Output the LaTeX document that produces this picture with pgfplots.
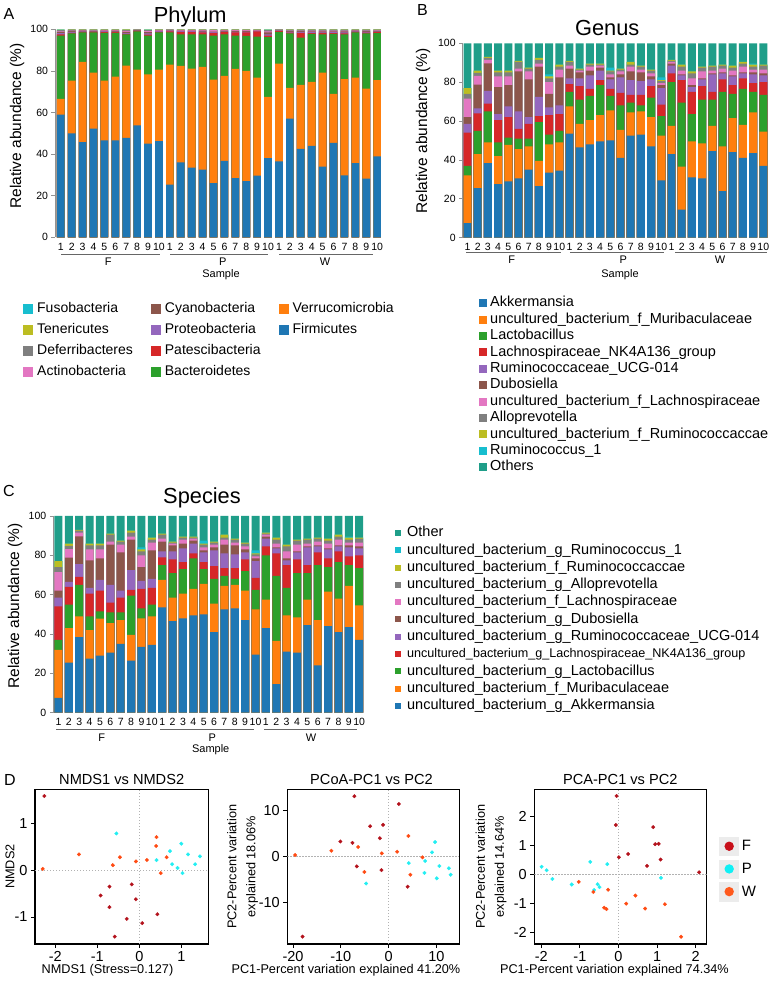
\documentclass[border=0pt]{standalone}
\usepackage{fontspec}
\setmainfont{Liberation Sans}
\usepackage{pgfplots}
\usepackage{pgfplotstable}
\pgfplotsset{compat=1.18}

\definecolor{cBlue}{HTML}{1F77B4}
\definecolor{cOrange}{HTML}{FF7F0E}
\definecolor{cGreen}{HTML}{2CA02C}
\definecolor{cRed}{HTML}{D62728}
\definecolor{cPurple}{HTML}{9467BD}
\definecolor{cBrown}{HTML}{8C564B}
\definecolor{cPink}{HTML}{E377C2}
\definecolor{cGrey}{HTML}{7F7F7F}
\definecolor{cOlive}{HTML}{BCBD22}
\definecolor{cCyan}{HTML}{17BECF}
\definecolor{cTeal}{HTML}{1F9E89}
\definecolor{ptF}{HTML}{B3121C}
\definecolor{ptP}{HTML}{22EEF2}
\definecolor{ptW}{HTML}{FF4A12}
\definecolor{lgF}{HTML}{C8101A}
\definecolor{lgP}{HTML}{10F0F5}
\definecolor{lgW}{HTML}{FF5A1E}

\newcommand\fs[1]{\fontsize{#1}{#1}\selectfont}

% phylum: cumulative top of each layer, Firmicutes at the bottom
\pgfplotstableread{
x fir ver bac pat pro cya act def ten fus
1 59.0 66.5 97.0 97.5 98.2 98.6 99.0 99.6 99.8 100
2 50.0 75.3 98.0 98.3 98.7 99.2 99.4 99.8 99.9 100
3 45.8 84.3 98.5 98.7 99.0 99.3 99.5 99.8 99.9 100
4 52.2 79.2 98.5 98.7 98.9 99.1 99.3 99.8 99.9 100
5 46.6 75.3 98.3 98.8 99.1 99.4 99.6 99.8 99.9 100
6 46.6 77.2 98.3 98.6 98.9 99.4 99.6 99.8 99.9 100
7 47.8 82.5 97.5 97.8 98.2 98.8 99.2 99.7 99.9 100
8 53.8 80.6 99.0 99.2 99.4 99.6 99.7 99.9 99.9 100
9 45.0 78.3 97.0 97.4 98.0 98.6 99.1 99.6 99.8 100
10 46.2 80.6 98.5 98.8 99.1 99.4 99.6 99.8 99.9 100
11 25.3 83.0 98.5 99.0 99.3 99.5 99.7 99.9 99.9 100
12 36.0 82.4 97.5 98.8 99.1 99.4 99.6 99.8 99.9 100
13 33.5 81.1 97.5 98.8 99.1 99.4 99.6 99.8 99.9 100
14 32.5 81.9 97.5 98.5 98.9 99.3 99.6 99.8 99.9 100
15 26.0 75.8 97.0 98.3 98.6 98.9 99.6 99.8 99.9 100
16 36.7 77.6 97.5 98.6 98.9 99.3 99.6 99.8 99.9 100
17 28.5 81.0 97.0 98.5 98.8 99.2 99.6 99.8 99.9 100
18 27.0 80.0 96.8 98.5 98.8 99.2 99.6 99.8 99.9 100
19 29.6 76.8 96.5 99.0 99.2 99.4 99.6 99.8 99.9 100
20 38.1 67.5 96.2 97.0 97.6 98.5 99.0 99.6 99.8 100
21 36.5 83.5 98.8 99.1 99.3 99.5 99.7 99.9 99.9 100
22 57.0 71.8 98.0 98.4 98.7 99.1 99.4 99.8 99.9 100
23 42.5 73.3 96.0 98.3 98.7 99.1 99.4 99.8 99.9 100
24 44.0 74.7 97.8 98.2 98.6 99.0 99.4 99.8 99.9 100
25 34.0 79.2 97.6 98.1 98.5 99.0 99.4 99.8 99.9 100
26 45.4 68.9 97.8 98.2 98.6 99.0 99.4 99.8 99.9 100
27 29.8 76.0 97.6 98.0 98.5 99.0 99.4 99.8 99.9 100
28 35.7 76.8 98.5 98.8 99.0 99.3 99.5 99.8 99.9 100
29 28.2 71.5 98.0 98.4 98.8 99.1 99.4 99.8 99.9 100
30 38.9 75.6 98.2 98.6 98.9 99.2 99.5 99.8 99.9 100
}\phylum

% genus / species: cumulative tops, Akkermansia at the bottom
\pgfplotstableread{
x akk mur lac lna rum dub ula all uru ru1 oth
1 7.5 32.0 37.0 54.0 58.5 62.0 71.5 74.0 77.0 77.0 100
2 25.5 43.0 55.0 64.0 66.5 78.8 83.2 84.8 86.0 86.0 100
3 38.4 49.0 65.0 69.0 75.5 89.7 91.5 92.5 93.0 93.0 100
4 27.5 42.0 49.0 60.5 63.5 77.5 83.0 85.0 86.0 86.0 100
5 29.0 47.8 51.5 62.0 67.5 78.5 83.0 85.0 86.0 86.0 100
6 30.5 45.5 51.0 56.0 65.0 85.5 87.0 90.5 91.0 91.0 100
7 35.0 47.0 51.0 58.5 62.0 81.5 85.5 87.0 87.5 87.5 100
8 26.5 39.5 59.5 62.5 72.5 88.0 89.5 91.5 92.5 92.5 100
9 33.5 48.0 53.0 63.0 67.0 74.0 80.0 82.0 83.0 84.0 100
10 34.5 49.0 55.0 63.5 68.0 82.5 86.5 88.0 89.0 89.0 100
11 53.5 67.5 75.0 79.0 82.0 87.0 88.5 90.5 91.0 91.0 100
12 46.5 58.5 71.0 78.0 82.0 85.0 86.0 86.5 87.0 87.0 100
13 48.0 60.5 73.0 76.5 83.5 86.0 88.0 89.0 89.5 89.5 100
14 49.5 63.0 78.5 81.0 86.0 87.5 88.5 89.0 89.5 89.5 100
15 50.0 65.5 73.0 76.5 81.5 82.5 84.0 85.5 86.0 87.5 100
16 41.0 55.5 68.0 74.5 82.5 84.0 85.5 86.5 87.0 87.0 100
17 52.5 64.5 69.5 73.5 81.0 85.5 88.0 89.0 90.5 90.5 100
18 53.0 65.0 68.0 73.5 80.5 85.0 86.5 88.0 88.5 88.5 100
19 47.0 62.0 72.0 78.0 81.5 83.0 84.5 86.0 86.5 86.5 100
20 29.5 52.5 62.5 68.5 77.0 78.5 79.5 80.5 81.0 82.5 100
21 43.0 57.5 80.0 84.5 88.5 89.5 90.5 91.0 91.5 91.5 100
22 14.5 36.5 69.5 81.0 83.5 84.0 86.0 88.0 89.0 89.0 100
23 31.0 49.5 63.5 75.0 77.5 78.5 82.0 84.5 85.5 85.5 100
24 30.5 48.5 71.0 78.0 81.5 82.0 85.5 87.5 88.0 88.0 100
25 44.5 57.5 71.0 75.0 84.0 84.5 86.0 88.0 88.5 88.5 100
26 24.0 47.0 75.0 81.5 84.5 85.0 87.0 88.5 89.0 89.0 100
27 44.0 61.5 74.0 78.5 83.0 83.5 86.0 87.5 88.5 88.5 100
28 41.0 58.0 76.5 82.0 84.5 85.0 88.0 89.5 90.5 90.5 100
29 43.5 64.5 75.0 79.5 84.0 85.0 86.5 88.0 89.0 89.5 100
30 37.0 54.5 73.5 80.0 83.5 84.5 86.5 88.5 89.0 89.0 100
}\genus

% one layer of a stacked column chart, drawn over the layers above it
\newcommand\stackbar[4]{\addplot[ybar, bar width=#4, bar shift=0pt, fill=#3, draw=none, forget plot] table[x=x, y=#2] {#1};}

\tikzset{
  zeroline/.style={gray!60, dash pattern=on 1.2pt off 1.8pt, line width=0.8pt},
  grp/.style={gray!80!black, line width=0.7pt},
}

\pgfplotsset{
  barchart/.style={
    scale only axis, anchor=south west, clip=false,
    ymin=0, ymax=100, ytick={0,20,40,60,80,100},
    axis y line*=left, axis x line*=bottom,
    x axis line style={draw=none},
    y axis line style={draw=gray!85, line width=0.7pt},
    xtick={1,...,30},
    xticklabels={1,2,3,4,5,6,7,8,9,10,1,2,3,4,5,6,7,8,9,10,1,2,3,4,5,6,7,8,9,10},
    xtick style={draw=none},
    ytick style={draw=gray!85, line width=0.7pt},
    tick align=outside, major tick length=3.5pt,
    tick label style={font=\fs{10.5}},
    xticklabel style={inner sep=1pt, yshift=-1pt},
    /pgf/number format/assume math mode=true,
    ylabel={Relative abundance (\%)},
    ylabel style={font=\fs{15.5}, anchor=center},
    legend cell align=left,
  },
  scat/.style={
    scale only axis, anchor=south west, height=154.7pt,
    axis line style={line width=1.2pt},
    tick pos=left, tick align=outside, major tick length=4pt,
    tick style={black, line width=1pt},
    tick label style={font=\fs{14.5}},
    /pgf/number format/assume math mode=true,
    xlabel style={font=\fs{12.7}, anchor=center},
    ylabel style={font=\fontsize{12.7}{19}\selectfont, anchor=center, align=center},
  },
  ptsF/.style={only marks, mark=*, mark size=1.8pt, color=ptF, mark options={solid, draw=ptF, fill=ptF, line width=0.3pt}, forget plot},
  ptsP/.style={only marks, mark=*, mark size=1.8pt, color=ptP, mark options={solid, draw=ptP, fill=ptP, line width=0.3pt}, forget plot},
  ptsW/.style={only marks, mark=*, mark size=1.8pt, color=ptW, mark options={solid, draw=ptW, fill=ptW, line width=0.3pt}, forget plot},
}

\begin{document}
\begin{tikzpicture}
\useasboundingbox (0,0) rectangle (778pt,982pt);

% ---------------- A: phylum
\begin{axis}[barchart, at={(55pt,744.7pt)}, width=327.6pt, height=208pt,
  xmin=0.47, xmax=30.5,
  ylabel style={at={(axis description cs:-0.116,0.535)}},
  legend columns=3,
  legend image code/.code={\fill[#1, draw=none] (0pt,-5pt) rectangle (10pt,5pt);},
  legend style={at={(axis description cs:-0.0977,-0.3135)}, anchor=north west,
    draw=none, fill=none, inner sep=0pt, font=\fs{14}, row sep=8pt,
    nodes={inner xsep=4pt, inner ysep=0pt, text height=10pt, text depth=3pt},
    /tikz/every even column/.append style={column sep=14pt}},
]
\stackbar{\phylum}{fus}{cCyan}{0.7}
\stackbar{\phylum}{ten}{cOlive}{0.7}
\stackbar{\phylum}{def}{cGrey}{0.7}
\stackbar{\phylum}{act}{cPink}{0.7}
\stackbar{\phylum}{cya}{cBrown}{0.7}
\stackbar{\phylum}{pro}{cPurple}{0.7}
\stackbar{\phylum}{pat}{cRed}{0.7}
\stackbar{\phylum}{bac}{cGreen}{0.7}
\stackbar{\phylum}{ver}{cOrange}{0.7}
\stackbar{\phylum}{fir}{cBlue}{0.7}
\addlegendimage{fill=cCyan}\addlegendentry{Fusobacteria}
\addlegendimage{fill=cBrown}\addlegendentry{Cyanobacteria}
\addlegendimage{fill=cOrange}\addlegendentry{Verrucomicrobia}
\addlegendimage{fill=cOlive}\addlegendentry{Tenericutes}
\addlegendimage{fill=cPurple}\addlegendentry{Proteobacteria}
\addlegendimage{fill=cBlue}\addlegendentry{Firmicutes}
\addlegendimage{fill=cGrey}\addlegendentry{Deferribacteres}
\addlegendimage{fill=cRed}\addlegendentry{Patescibacteria}
\addlegendimage{empty legend}\addlegendentry{}
\addlegendimage{fill=cPink}\addlegendentry{Actinobacteria}
\addlegendimage{fill=cGreen}\addlegendentry{Bacteroidetes}
\end{axis}

% ---------------- B: genus
\begin{axis}[barchart, at={(462.7pt,744.3pt)}, width=305.2pt, height=194.4pt,
  xmin=0.53, xmax=30.45,
  ylabel style={at={(axis description cs:-0.13,0.549)}},
  legend image code/.code={\fill[#1, draw=none] (0pt,-4pt) rectangle (8pt,4pt);},
  legend style={at={(axis description cs:0.0534,-0.301)}, anchor=north west,
    draw=none, fill=none, inner sep=0pt, font=\fs{14.5}, row sep=2.9pt,
    nodes={inner xsep=3pt, inner ysep=0pt, text height=10.5pt, text depth=3pt}},
]
\stackbar{\genus}{oth}{cTeal}{0.78}
\stackbar{\genus}{ru1}{cCyan}{0.78}
\stackbar{\genus}{uru}{cOlive}{0.78}
\stackbar{\genus}{all}{cGrey}{0.78}
\stackbar{\genus}{ula}{cPink}{0.78}
\stackbar{\genus}{dub}{cBrown}{0.78}
\stackbar{\genus}{rum}{cPurple}{0.78}
\stackbar{\genus}{lna}{cRed}{0.78}
\stackbar{\genus}{lac}{cGreen}{0.78}
\stackbar{\genus}{mur}{cOrange}{0.78}
\stackbar{\genus}{akk}{cBlue}{0.78}
\addlegendimage{fill=cBlue}\addlegendentry{Akkermansia}
\addlegendimage{fill=cOrange}\addlegendentry{uncultured\_bacterium\_f\_Muribaculaceae}
\addlegendimage{fill=cGreen}\addlegendentry{Lactobacillus}
\addlegendimage{fill=cRed}\addlegendentry{Lachnospiraceae\_NK4A136\_group}
\addlegendimage{fill=cPurple}\addlegendentry{Ruminococcaceae\_UCG-014}
\addlegendimage{fill=cBrown}\addlegendentry{Dubosiella}
\addlegendimage{fill=cPink}\addlegendentry{uncultured\_bacterium\_f\_Lachnospiraceae}
\addlegendimage{fill=cGrey}\addlegendentry{Alloprevotella}
\addlegendimage{fill=cOlive}\addlegendentry{uncultured\_bacterium\_f\_Ruminococcaccae}
\addlegendimage{fill=cCyan}\addlegendentry{Ruminococcus\_1}
\addlegendimage{fill=cTeal}\addlegendentry{Others}
\end{axis}

% ---------------- C: species
\begin{axis}[barchart, at={(53.3pt,269.3pt)}, width=310.6pt, height=196.7pt,
  xmin=0.5, xmax=30.45,
  ylabel style={at={(axis description cs:-0.123,0.543)}},
  legend image code/.code={\fill[#1, draw=none] (0pt,-3pt) rectangle (6pt,3pt);},
  legend style={at={(axis description cs:1.100,0.949)}, anchor=north west,
    draw=none, fill=none, inner sep=0pt, font=\fs{14.5}, row sep=3.8pt,
    nodes={inner xsep=6pt, inner ysep=0pt, text height=10.5pt, text depth=3pt}},
]
\stackbar{\genus}{oth}{cTeal}{0.77}
\stackbar{\genus}{ru1}{cCyan}{0.77}
\stackbar{\genus}{uru}{cOlive}{0.77}
\stackbar{\genus}{all}{cGrey}{0.77}
\stackbar{\genus}{ula}{cPink}{0.77}
\stackbar{\genus}{dub}{cBrown}{0.77}
\stackbar{\genus}{rum}{cPurple}{0.77}
\stackbar{\genus}{lna}{cRed}{0.77}
\stackbar{\genus}{lac}{cGreen}{0.77}
\stackbar{\genus}{mur}{cOrange}{0.77}
\stackbar{\genus}{akk}{cBlue}{0.77}
\addlegendimage{fill=cTeal}\addlegendentry{Other}
\addlegendimage{fill=cCyan}\addlegendentry{uncultured\_bacterium\_g\_Ruminococcus\_1}
\addlegendimage{fill=cOlive}\addlegendentry{uncultured\_bacterium\_f\_Ruminococcaccae}
\addlegendimage{fill=cGrey}\addlegendentry{uncultured\_bacterium\_g\_Alloprevotella}
\addlegendimage{fill=cPink}\addlegendentry{uncultured\_bacterium\_f\_Lachnospiraceae}
\addlegendimage{fill=cBrown}\addlegendentry{uncultured\_bacterium\_g\_Dubosiella}
\addlegendimage{fill=cPurple}\addlegendentry{uncultured\_bacterium\_g\_Ruminococcaceae\_UCG-014}
\addlegendimage{fill=cRed}\addlegendentry{\fs{12.6}uncultured\_bacterium\_g\_Lachnospiraceae\_NK4A136\_group}
\addlegendimage{fill=cGreen}\addlegendentry{uncultured\_bacterium\_g\_Lactobacillus}
\addlegendimage{fill=cOrange}\addlegendentry{uncultured\_bacterium\_f\_Muribaculaceae}
\addlegendimage{fill=cBlue}\addlegendentry{uncultured\_bacterium\_g\_Akkermansia}
\end{axis}

% ---------------- D1: NMDS
\begin{axis}[scat, at={(35pt,38pt)}, width=173.3pt,
  xmin=-2.483, xmax=1.643, ymin=-1.578, ymax=1.735,
  xtick={-2,-1,0,1}, ytick={-1,0,1},
  xlabel={NMDS1 (Stress=0.127)}, ylabel={NMDS2},
  xlabel style={at={(axis description cs:0.418,-0.168)}},
  ylabel style={at={(axis description cs:-0.144,0.5)}},
]
\draw[zeroline] ({axis cs:0,0}|-{rel axis cs:0,0}) -- ({axis cs:0,0}|-{rel axis cs:0,1});
\draw[zeroline] ({axis cs:0,0}-|{rel axis cs:0,0}) -- ({axis cs:0,0}-|{rel axis cs:1,0});
\addplot[ptsF] coordinates {(-2.26,1.59) (-0.18,-0.30) (-0.71,-0.35) (-0.92,-0.54) (-0.08,-0.62)
  (-0.71,-0.79) (0.43,-0.94) (-0.30,-1.04) (0.07,-1.13) (-0.585,-1.42)};
\addplot[ptsP] coordinates {(-0.545,0.79) (0.41,0.22) (0.73,0.41) (0.78,0.13) (1.0,0.57)
  (1.16,0.34) (1.445,0.30) (1.33,0.13) (0.91,0.05) (1.03,-0.06)};
\addplot[ptsW] coordinates {(-2.30,0.03) (-1.436,0.34) (-0.46,0.28) (-0.63,0.11) (-0.08,0.19)
  (0.18,0.22) (0.41,0.71) (0.40,0.52) (0.65,0.28) (0.51,-0.06)};
\end{axis}

% ---------------- D2: PCoA
\begin{axis}[scat, at={(287.3pt,38pt)}, width=172pt,
  xmin=-21.2, xmax=14.8, ymin=-18.9, ymax=14.6,
  xtick={-20,-10,0,10}, ytick={-10,0,10},
  xlabel={PC1-Percent variation explained 41.20\%},
  ylabel={PC2-Percent variation\\explained 18.06\%},
  xlabel style={at={(axis description cs:0.341,-0.168)}},
  ylabel style={at={(axis description cs:-0.26,0.5)}},
]
\draw[zeroline] ({axis cs:0,0}|-{rel axis cs:0,0}) -- ({axis cs:0,0}|-{rel axis cs:0,1});
\draw[zeroline] ({axis cs:0,0}-|{rel axis cs:0,0}) -- ({axis cs:0,0}-|{rel axis cs:1,0});
\addplot[ptsF] coordinates {(-18.0,-17.3) (-10.1,3.3) (-7.57,3.0) (-3.87,6.6) (-1.15,6.9)
  (-1.84,4.0) (-6.65,-2.1) (-1.5,-2.9) (4.0,-6.5) (-7.15,13.1) (2.15,11.4)};
\addplot[ptsP] coordinates {(-4.7,-5.8) (4.22,-1.4) (7.64,-0.93) (7.5,-3.5) (9.1,0.95)
  (9.73,3.17) (10.63,-2.0) (10.08,-4.67) (12.6,-2.5) (13.0,-3.9)};
\addplot[ptsW] coordinates {(-19.56,0.37) (-11.97,1.3) (-6.38,2.1) (-1.42,0.73) (-5.06,-3.3)
  (1.78,1.08) (4.15,4.5) (4.57,-3.9) (7.08,-0.14)};
\end{axis}

% ---------------- D3: PCA
\begin{axis}[scat, at={(534.3pt,38pt)}, width=172.4pt,
  xmin=-2.18, xmax=2.285, ymin=-2.39, ymax=2.94,
  xtick={-2,-1,0,1,2}, ytick={-2,-1,0,1,2},
  xlabel={PC1-Percent variation explained 74.34\%},
  ylabel={PC2-Percent variation\\explained 14.64\%},
  xlabel style={at={(axis description cs:0.465,-0.168)}},
  ylabel style={at={(axis description cs:-0.251,0.5)}},
  legend image code/.code={\fill[gray!15] (0pt,-9.2pt) rectangle (19pt,9.2pt);
    \fill[#1, draw=none] (9.5pt,0pt) circle (4.7pt);},
  legend cell align=left,
  legend style={at={(axis description cs:1.073,0.694)}, anchor=north west,
    draw=none, fill=none, inner sep=0pt, font=\fs{15}, row sep=3.9pt,
    nodes={inner xsep=3pt, inner ysep=0pt}},
]
\draw[zeroline] ({axis cs:0,0}|-{rel axis cs:0,0}) -- ({axis cs:0,0}|-{rel axis cs:0,1});
\draw[zeroline] ({axis cs:0,0}-|{rel axis cs:0,0}) -- ({axis cs:0,0}-|{rel axis cs:1,0});
\addplot[ptsF] coordinates {(-0.05,2.71) (-0.07,1.71) (0.9,1.64) (0.95,1.05) (1.04,1.06)
  (0.25,0.71) (0.01,0.6) (1.09,0.52) (0.74,0.3) (2.09,0.08)};
\addplot[ptsP] coordinates {(-1.99,0.27) (-1.86,0.15) (-1.71,-0.15) (-0.73,0.44) (-0.29,0.36)
  (-1.21,-0.34) (-0.54,-0.33) (-0.49,-0.43) (-0.63,-0.53) (1.1,-0.11)};
\addplot[ptsW] coordinates {(-1.03,-0.25) (-0.65,-0.6) (-0.27,-0.52) (0.44,-0.72) (0.2,-1.0)
  (-0.37,-1.14) (-0.31,-1.19) (0.69,-1.17) (1.2,-1.02) (1.62,-2.14)};
\addlegendimage{fill=lgF}\addlegendentry{F}
\addlegendimage{fill=lgP}\addlegendentry{P}
\addlegendimage{fill=lgW}\addlegendentry{W}
\end{axis}

% ---------------- titles, panel letters and sample groups (pixel positions, y down)
\begin{scope}[x=1pt, y=-1pt, shift={(0pt,982pt)}]
  \node[anchor=base west, font=\fs{16}, inner sep=0pt] at (3.3,20) {A};
  \node[anchor=base west, font=\fs{16}, inner sep=0pt] at (417,16) {B};
  \node[anchor=base west, font=\fs{16}, inner sep=0pt] at (3,497) {C};
  \node[anchor=base west, font=\fs{16}, inner sep=0pt] at (4,786) {D};
  \node[anchor=base, font=\fs{21.8}, inner sep=0pt] at (190.3,22.7) {Phylum};
  \node[anchor=base, font=\fs{21.8}, inner sep=0pt] at (607.2,36) {Genus};
  \node[anchor=base, font=\fs{21.8}, inner sep=0pt] at (202,504) {Species};
  \node[anchor=base, font=\fs{14.6}, inner sep=0pt] at (121.7,785) {NMDS1 vs NMDS2};
  \node[anchor=base, font=\fs{14.6}, inner sep=0pt] at (371.5,785) {PCoA-PC1 vs PC2};
  \node[anchor=base, font=\fs{14.6}, inner sep=0pt] at (620.3,785) {PCA-PC1 vs PC2};
  % A groups
  \draw[grp] (61,254) -- (160,254);
  \draw[grp] (170,254) -- (268,254);
  \draw[grp] (279,254) -- (373,254);
  \node[anchor=base, font=\fs{11}, inner sep=0pt] at (108.3,265.7) {F};
  \node[anchor=base, font=\fs{11}, inner sep=0pt] at (222.7,265.7) {P};
  \node[anchor=base, font=\fs{11}, inner sep=0pt] at (325,265.7) {W};
  \node[anchor=base, font=\fs{11}, inner sep=0pt] at (221,278) {Sample};
  % B groups
  \draw[grp] (466,252.3) -- (560.7,252.3);
  \draw[grp] (570,252.3) -- (664,252.3);
  \draw[grp] (675,252.3) -- (766.7,252.3);
  \node[anchor=base, font=\fs{11}, inner sep=0pt] at (511.7,263.3) {F};
  \node[anchor=base, font=\fs{11}, inner sep=0pt] at (623.3,263.3) {P};
  \node[anchor=base, font=\fs{11}, inner sep=0pt] at (720,263.3) {W};
  \node[anchor=base, font=\fs{11}, inner sep=0pt] at (620,277.3) {Sample};
  % C groups
  \draw[grp] (56,729.3) -- (150,729.3);
  \draw[grp] (160,729.3) -- (254,729.3);
  \draw[grp] (264,729.3) -- (357,729.3);
  \node[anchor=base, font=\fs{11}, inner sep=0pt] at (101.7,741.7) {F};
  \node[anchor=base, font=\fs{11}, inner sep=0pt] at (212.3,741.7) {P};
  \node[anchor=base, font=\fs{11}, inner sep=0pt] at (311,741.7) {W};
  \node[anchor=base, font=\fs{11}, inner sep=0pt] at (210.7,753) {Sample};
\end{scope}
\end{tikzpicture}
\end{document}
